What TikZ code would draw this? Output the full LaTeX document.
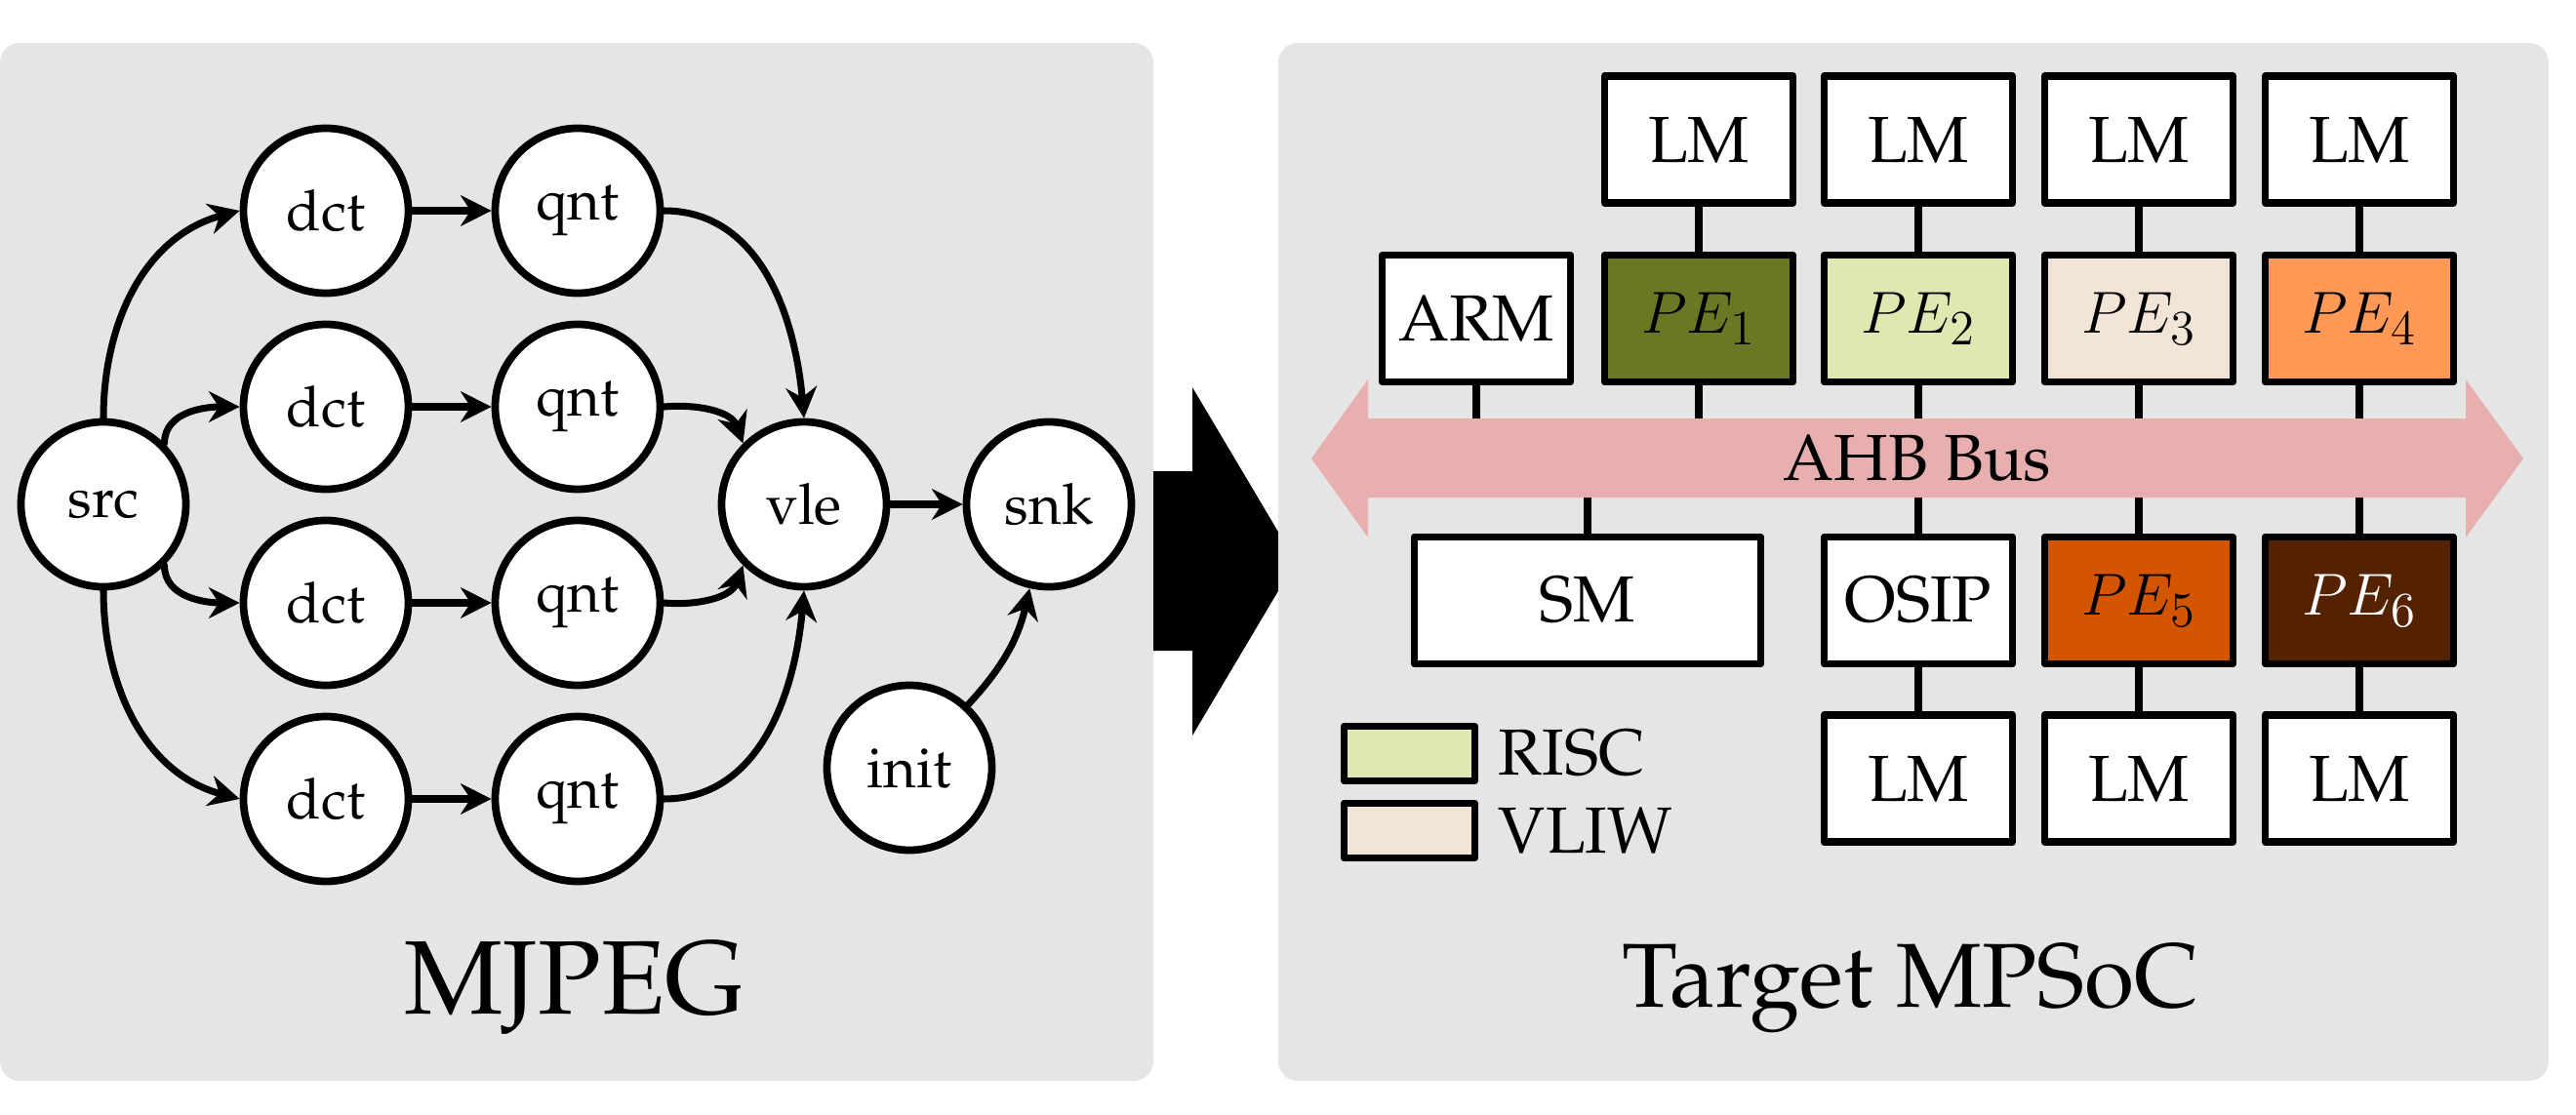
\documentclass[tikz,border=0pt]{standalone}
\usepackage[T1]{fontenc}
\usepackage{palatino}
\usetikzlibrary{arrows.meta,positioning}

\definecolor{panelgray}{HTML}{E5E5E5}
\definecolor{buspink}{HTML}{E8AFAF}
\definecolor{peone}{HTML}{697822}
\definecolor{petwo}{HTML}{DEE8B0}
\definecolor{pethree}{HTML}{F3E4D8}
\definecolor{pefour}{HTML}{FF9955}
\definecolor{pefive}{HTML}{D45500}
\definecolor{pesix}{HTML}{552200}

\tikzset{
	task/.style={circle, draw, fill=white, line width=2.2pt, minimum size=1.69cm, inner sep=0pt, font=\fontsize{16.5}{18}\selectfont},
	unit/.style={rectangle, draw, fill=white, line width=2.1pt, minimum width=1.93cm, minimum height=1.30cm, inner sep=0pt, font=\fontsize{19}{22}\selectfont},
	flow/.style={line width=2pt, -{Stealth[length=9pt, width=9pt]}},
	link/.style={line width=2.1pt},
	panel/.style={fill=panelgray, rounded corners=0.2cm}
}

\begin{document}
\begin{tikzpicture}[line join=round, line cap=round]
			\useasboundingbox (0,0) rectangle (26.40,-11.43);
			
			\path[panel] (0,-0.44) rectangle (11.82,-11.08);
			\fill (11.82,-4.83) -- (12.22,-4.83) -- (12.22,-3.97) -- (13.28,-5.755)
			-- (12.22,-7.54) -- (12.22,-6.67) -- (11.82,-6.67) -- cycle;
			\path[panel] (13.10,-0.44) rectangle (26.12,-11.08);
			
			\node[task] (src) at (1.06,-5.17) {src};
			\foreach \i/\y in {1/-2.16, 2/-4.17, 3/-6.18, 4/-8.19} {
				\node[task] (dct\i) at (3.34,\y) {dct};
				\node[task] (qnt\i) at (5.92,\y) {qnt};
				\draw[flow] (dct\i) -- (qnt\i);
			}
			\node[task] (vle) at (8.24,-5.17) {vle};
			\node[task] (snk) at (10.75,-5.17) {snk};
			\node[task] (init) at (9.32,-7.87) {init};
			
			\draw[flow] (src.north) to[out=90, in=195] (dct1.west);
			\draw[flow] (src.north east) to[out=90, in=180] (dct2.west);
			\draw[flow] (src.south east) to[out=-90, in=180] (dct3.west);
			\draw[flow] (src.south) to[out=-90, in=165] (dct4.west);
			\draw[flow] (qnt1.east) to[out=0, in=95] (vle.north);
			\draw[flow] (qnt2.east) to[out=5, in=110] (vle.north west);
			\draw[flow] (qnt3.east) to[out=-5, in=-110] (vle.south west);
			\draw[flow] (qnt4.east) to[out=0, in=-95] (vle.south);
			\draw[flow] (vle) -- (snk);
			\draw[flow] (init) to[bend right=15] (snk);
			
			\node[font=\fontsize{30.5}{34}\selectfont, anchor=base] (mjpeg) at (5.89,-10.39) {MJPEG};
			
			\coordinate (bus) at (19.65,-4.70);
			\foreach \c/\x/\col in {1/17.41/peone, 2/19.66/petwo, 3/21.92/pethree, 4/24.18/pefour} {
				\node[unit] (lmt\c) at (\x,-1.43) {LM};
				\node[unit, fill=\col] (pe\c) at (\x,-3.265) {$PE_\c$};
				\draw[link] (lmt\c) -- (pe\c);
			}
			\node[unit] (arm) at (15.13,-3.265) {ARM};
			\node[unit, minimum width=3.55cm] (sm) at (16.27,-6.155) {SM};
			\node[unit] (osip) at (19.66,-6.155) {OSIP};
			\node[unit, fill=pefive] (pe5) at (21.92,-6.155) {$PE_5$};
			\node[unit, fill=pesix, text=white] (pe6) at (24.18,-6.155) {$PE_6$};
			\foreach \c/\x in {2/19.66, 3/21.92, 4/24.18}
			\node[unit] (lmb\c) at (\x,-7.98) {LM};
			
			\foreach \n in {arm, pe1, pe2, pe3, pe4}
			\draw[link] (\n.south) -- (\n.south |- bus);
			\foreach \n in {sm, osip, pe5, pe6}
			\draw[link] (\n.north) -- (\n.north |- bus);
			\foreach \up/\down in {osip/lmb2, pe5/lmb3, pe6/lmb4}
			\draw[link] (\up) -- (\down);
			
			\fill[buspink] (13.44,-4.70) -- (14.02,-3.89) -- (14.02,-4.29) -- (25.27,-4.29)
			-- (25.27,-3.89) -- (25.86,-4.70) -- (25.27,-5.51) -- (25.27,-5.10)
			-- (14.02,-5.10) -- (14.02,-5.51) -- cycle;
			\node[font=\fontsize{19}{22}\selectfont] (buslabel) at (bus) {AHB Bus};
			
			\node[unit, minimum width=1.34cm, minimum height=0.56cm, fill=petwo] (risc) at (14.445,-7.725) {};
			\node[unit, minimum width=1.34cm, minimum height=0.56cm, fill=pethree] (vliw) at (14.445,-8.515) {};
			\node[right=0.2cm of risc, inner sep=0pt, font=\fontsize{19}{22}\selectfont] (risctext) {RISC};
			\node[right=0.2cm of vliw, inner sep=0pt, font=\fontsize{19}{22}\selectfont] (vliwtext) {VLIW};
			
			\node[font=\fontsize{26.5}{30}\selectfont, anchor=base] (mpsoc) at (19.58,-10.32) {Target MPSoC};
		\end{tikzpicture}
\end{document}
